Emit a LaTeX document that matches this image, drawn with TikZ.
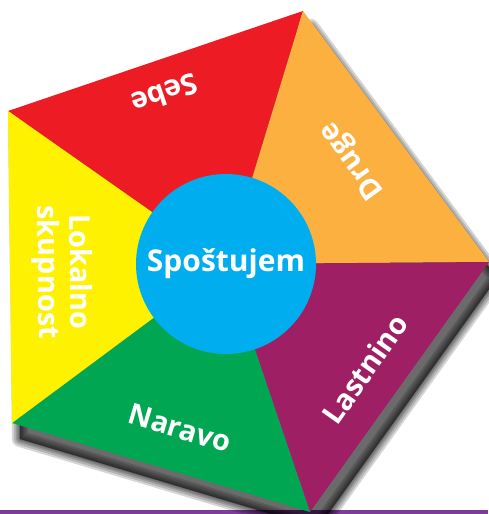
\documentclass[tikz,border=0pt]{standalone}
\usepackage{fontspec}
\setmainfont{Open Sans}
\usepackage{xcolor}
\usepackage{tikz}
\usetikzlibrary{positioning,calc}
\definecolor{sebered}{HTML}{ED1C24}
\definecolor{drugeorange}{HTML}{FBB040}
\definecolor{lastpurple}{HTML}{9E1F63}
\definecolor{naravogreen}{HTML}{00A651}
\definecolor{lokalyellow}{HTML}{FFF200}
\definecolor{centreblue}{HTML}{00AEEF}
\definecolor{barpurple}{HTML}{7D3C98}

\begin{document}
\begin{tikzpicture}[x=1pt,y=1pt,
    segtext/.style={text=white, font=\fontsize{29}{32}\selectfont\bfseries, align=center, inner sep=0pt},
    shadowlayer/.style={black, opacity=0.16, line join=round}]
    \useasboundingbox (0,0) rectangle (488,514);
    \coordinate (top) at (303,503);
    \coordinate (right) at (489,252);
    \coordinate (bottom) at (310,2);
    \coordinate (lowleft) at (12,91);
    \coordinate (upleft) at (8,403);
    \coordinate (mid) at (226,250);
    \fill[barpurple] (0,0) rectangle (488,4);
    % soft drop shadow
    \foreach \w in {16,12,8,5,2}
        \filldraw[shadowlayer, line width=\w] ([shift={(8,-16)}]top) -- ([shift={(8,-16)}]right)
            -- ([shift={(8,-16)}]bottom) -- ([shift={(8,-16)}]lowleft) -- ([shift={(8,-16)}]upleft) -- cycle;
    \fill[sebered] (mid) -- (upleft) -- (top) -- cycle;
    \fill[drugeorange] (mid) -- (top) -- (right) -- cycle;
    \fill[lastpurple] (mid) -- (right) -- (bottom) -- cycle;
    \fill[naravogreen] (mid) -- (bottom) -- (lowleft) -- cycle;
    \fill[lokalyellow] (mid) -- (lowleft) -- (upleft) -- cycle;
    \node[circle, fill=centreblue, minimum size=180, inner sep=0pt, text=white,
        font=\fontsize{30}{32}\selectfont\bfseries] (spostujem) at (mid) {Spoštujem};
    \node[segtext, rotate=198.7] (sebe) at (165,420) {Sebe};
    \node[segtext, rotate=126.1] (druge) at (353,354) {Druge};
    \node[segtext, rotate=54.8] (lastnino) at (365,145) {Lastnino};
    \node[segtext, rotate=-16.6] (naravo) at (180,86) {Naravo};
    \node[segtext, rotate=-89.3] (lokalno) at (62,242) {Lokalno\\skupnost};
\end{tikzpicture}
\end{document}
